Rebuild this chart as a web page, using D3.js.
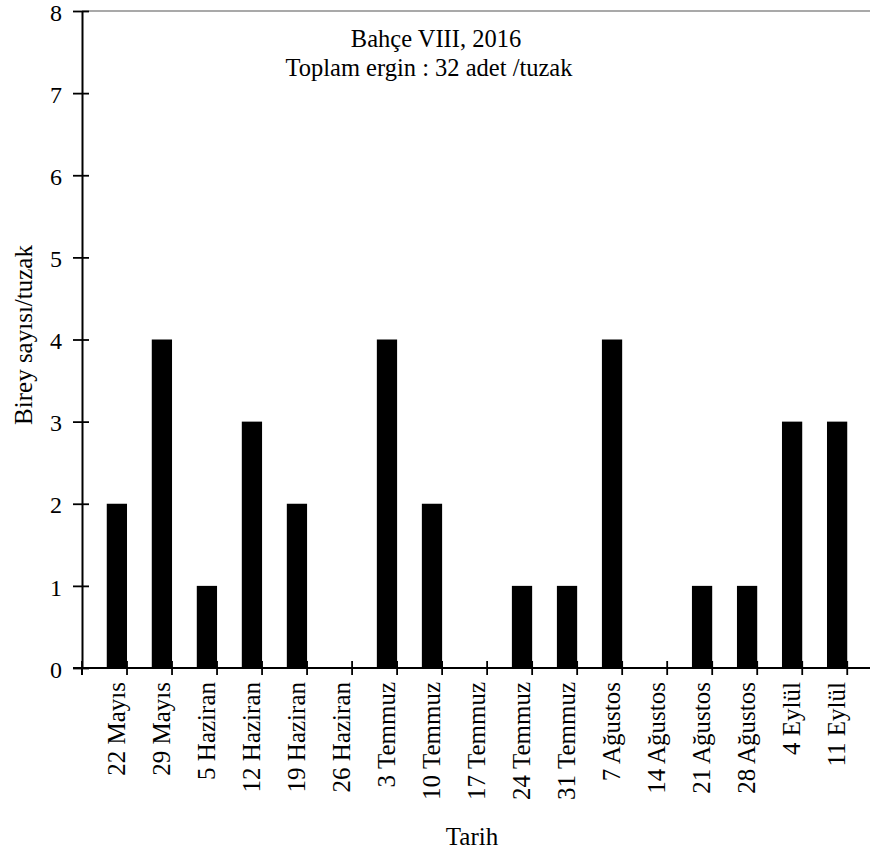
<!DOCTYPE html>
<html>
<head>
<meta charset="utf-8">
<script src="https://cdn.jsdelivr.net/npm/d3@7"></script>
<style>
  html, body { margin: 0; padding: 0; background: #fff; }
  svg { display: block; }
  text { font-family: "Liberation Serif", "Times New Roman", serif; fill: #000; }
</style>
</head>
<body>
<svg id="chart" width="870" height="854"></svg>
<script>
// Weekly trap counts, Bahçe VIII, 2016
const dates = ["22 Mayıs", "29 Mayıs", "5 Haziran", "12 Haziran", "19 Haziran", "26 Haziran",
  "3 Temmuz", "10 Temmuz", "17 Temmuz", "24 Temmuz", "31 Temmuz", "7 Ağustos",
  "14 Ağustos", "21 Ağustos", "28 Ağustos", "4 Eylül", "11 Eylül"];
const counts = [2, 4, 1, 3, 2, 0, 4, 2, 0, 1, 1, 4, 0, 1, 1, 3, 3];
const yTicks = [0, 1, 2, 3, 4, 5, 6, 7, 8];
const titleLines = ["Bahçe VIII, 2016", "Toplam ergin : 32 adet /tuzak"];
const xTitle = "Tarih";
const yTitle = "Birey sayısı/tuzak";

const SERIF = '"Liberation Serif", "Times New Roman", serif';
const svg = d3.select("#chart");
const plotLeft = 82, plotRight = 872, plotTop = 11, plotBottom = 668;

const x = d3.scaleBand().domain(dates).range([plotLeft, plotRight]).padding(0.55);
const y = d3.scaleLinear().domain([0, 8]).range([plotBottom, plotTop]);

// top frame line
svg.append("line")
  .attr("x1", plotLeft).attr("x2", 870)
  .attr("y1", y(8)).attr("y2", y(8))
  .attr("stroke", "#8c8c8c").attr("stroke-width", 1.5);

// bars
svg.append("g").selectAll("rect")
  .data(dates)
  .join("rect")
  .attr("x", d => x(d))
  .attr("width", x.bandwidth())
  .attr("y", (d, i) => y(counts[i]))
  .attr("height", (d, i) => y(0) - y(counts[i]))
  .attr("fill", "#000");

// y axis
const yAxis = svg.append("g").attr("transform", `translate(${plotLeft},0)`)
  .call(d3.axisLeft(y).tickValues(yTicks).tickFormat(d3.format("d")).tickSize(0).tickPadding(20));
yAxis.attr("font-family", null).attr("font-size", null);
yAxis.select(".domain").attr("stroke", "#000").attr("stroke-width", 2);
yAxis.selectAll(".tick text")
  .style("font-family", SERIF).style("font-size", "24px")
  .attr("dy", "0.38em");
yAxis.selectAll(".tick").append("line")
  .attr("x1", -9).attr("x2", 7).attr("stroke", "#000").attr("stroke-width", 1.8);

// x axis line
svg.append("line")
  .attr("x1", plotLeft - 9).attr("x2", 870)
  .attr("y1", plotBottom).attr("y2", plotBottom)
  .attr("stroke", "#000").attr("stroke-width", 2);
svg.append("line")
  .attr("x1", plotLeft).attr("x2", plotLeft)
  .attr("y1", plotBottom).attr("y2", plotBottom + 7)
  .attr("stroke", "#000").attr("stroke-width", 2);

// category boundary ticks
const step = x.step();
const bounds = d3.range(dates.length + 1).map(i => plotLeft + i * step);
svg.append("g").selectAll("line")
  .data(bounds)
  .join("line")
  .attr("x1", d => d).attr("x2", d => d)
  .attr("y1", plotBottom - 7).attr("y2", plotBottom + 7)
  .attr("stroke", "#000").attr("stroke-width", 1.8);

// category labels
svg.append("g").selectAll("text")
  .data(dates)
  .join("text")
  .attr("transform", d => `translate(${x(d) + x.bandwidth() / 2},${plotBottom + 14}) rotate(-90)`)
  .attr("text-anchor", "end")
  .attr("dy", "0.32em")
  .style("font-family", SERIF).style("font-size", "25px")
  .text(d => d);

// title
svg.append("text").attr("x", 436).attr("y", 47).attr("text-anchor", "middle")
  .style("font-family", SERIF).style("font-size", "24.5px").text(titleLines[0]);
svg.append("text").attr("x", 429).attr("y", 76).attr("text-anchor", "middle")
  .style("font-family", SERIF).style("font-size", "24.5px").text(titleLines[1]);

// axis titles
svg.append("text").attr("x", 472).attr("y", 845).attr("text-anchor", "middle")
  .style("font-family", SERIF).style("font-size", "25px").text(xTitle);
svg.append("text")
  .attr("transform", "translate(32,335) rotate(-90)")
  .attr("text-anchor", "middle")
  .style("font-family", SERIF).style("font-size", "25px").text(yTitle);
</script>
</body>
</html>
